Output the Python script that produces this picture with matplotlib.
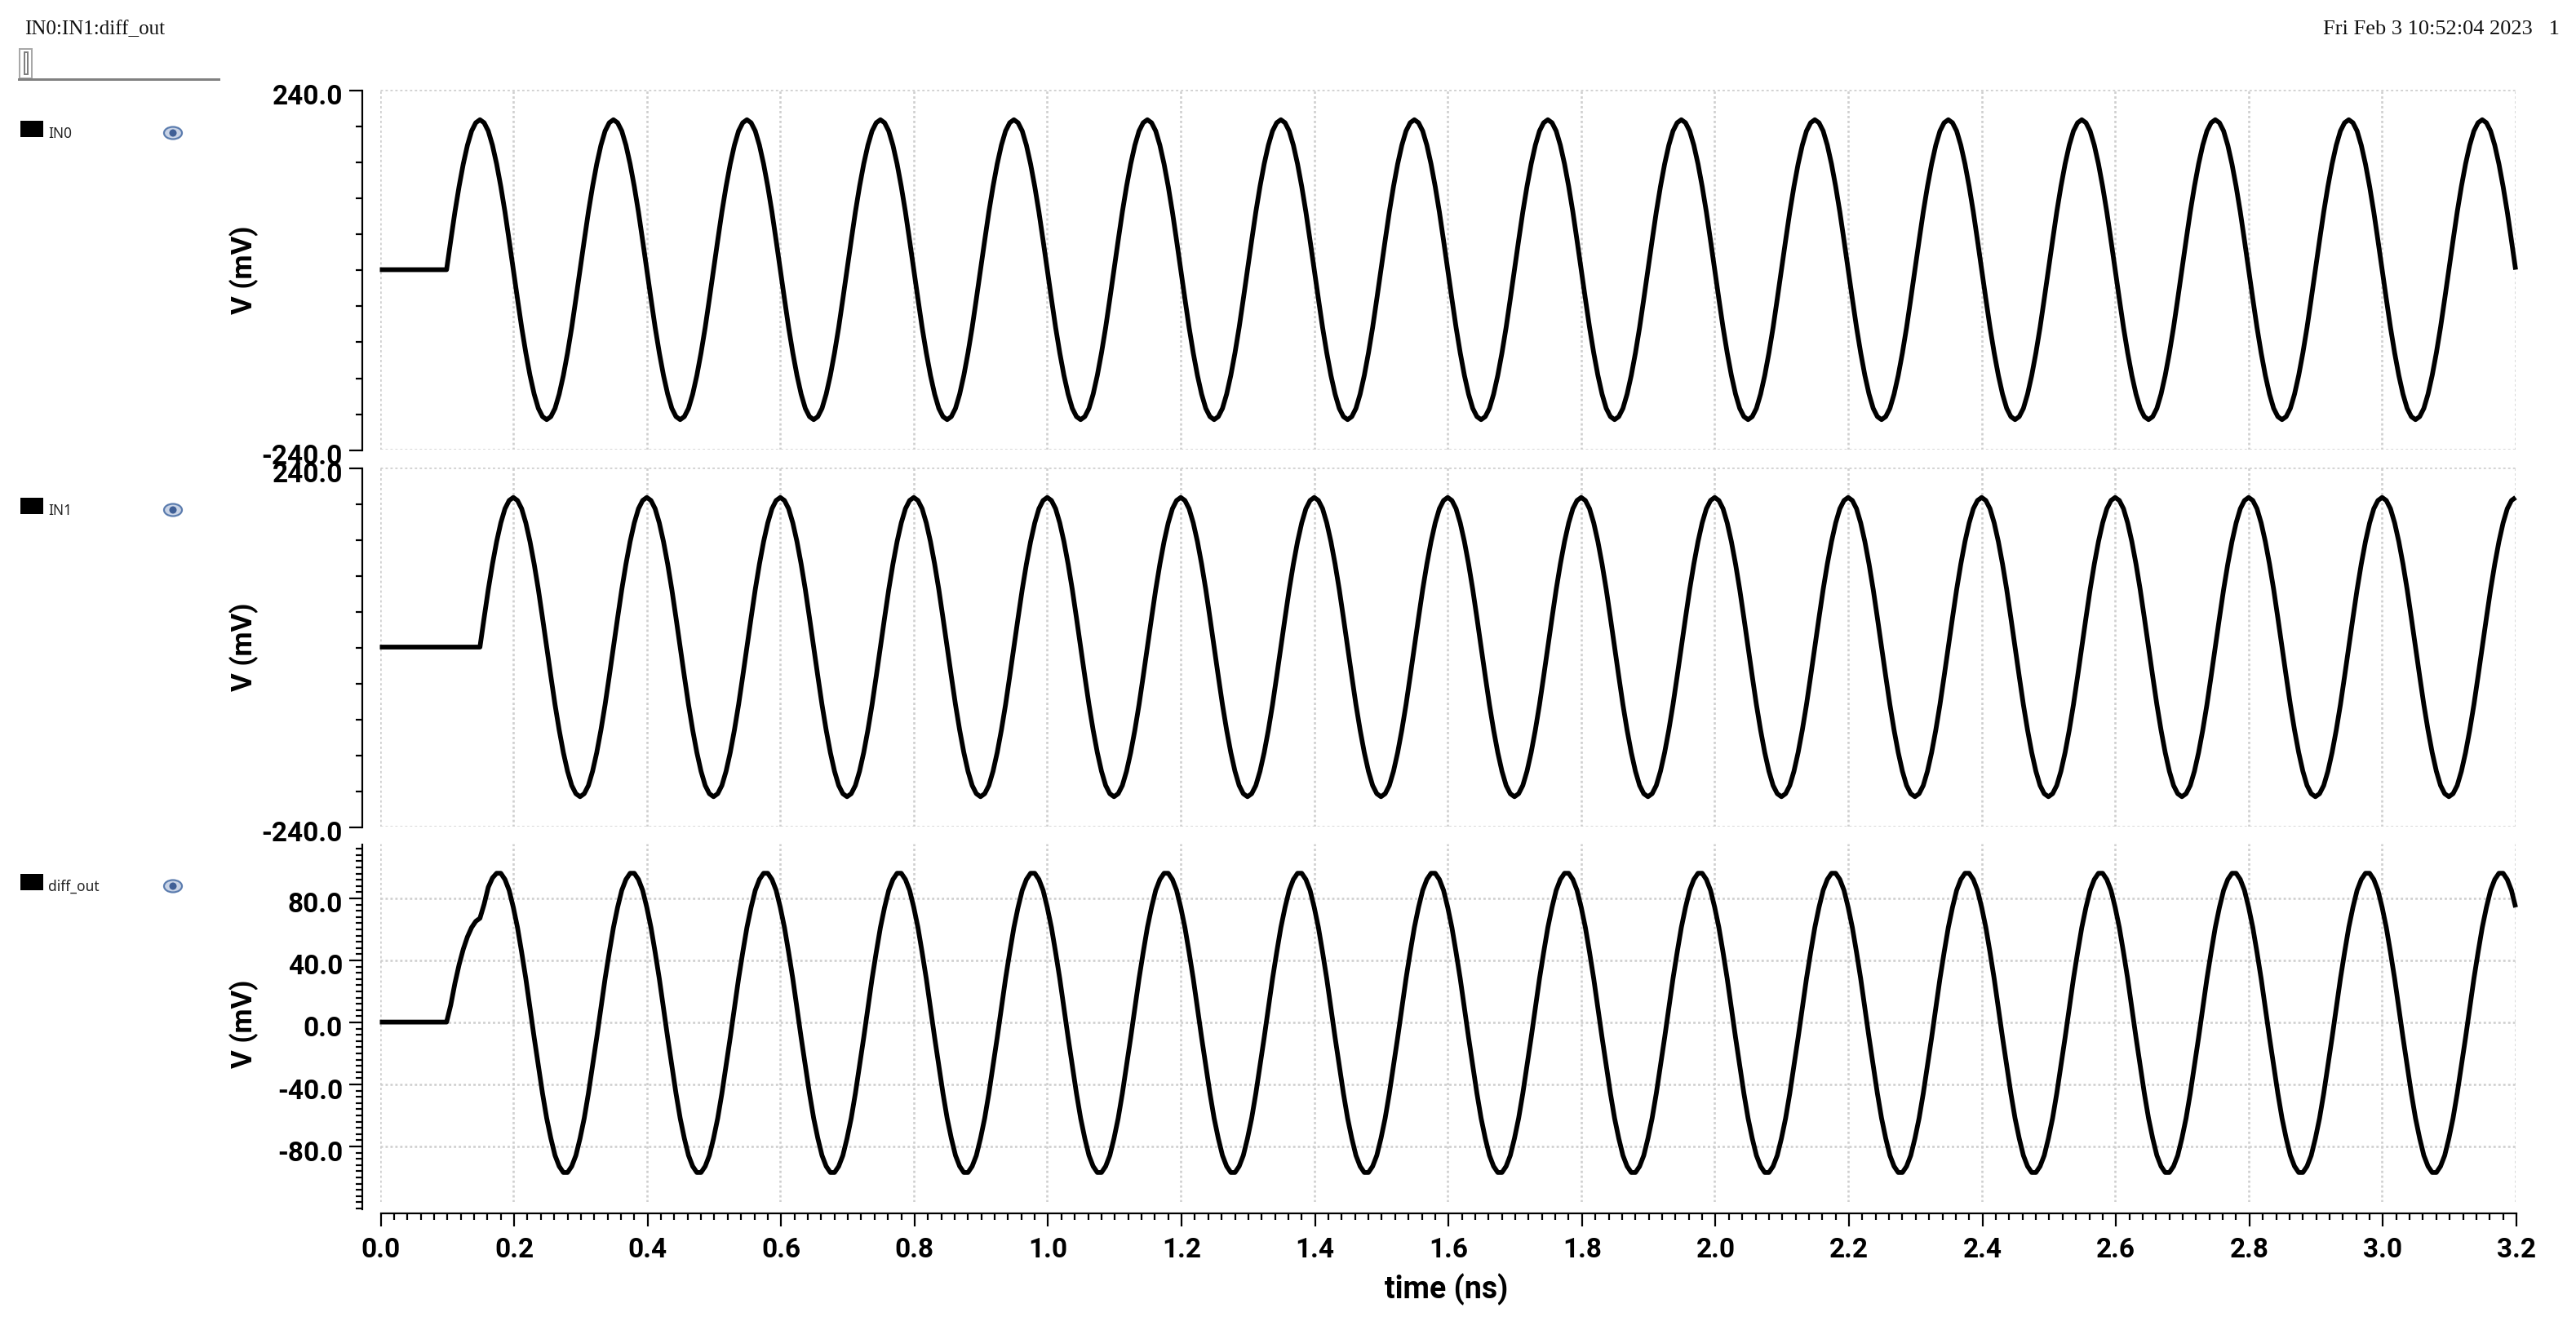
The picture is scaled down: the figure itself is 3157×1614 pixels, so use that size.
import numpy as np
import matplotlib
matplotlib.use("Agg")
import matplotlib.pyplot as plt
from matplotlib.patches import Rectangle, Ellipse
from matplotlib.ticker import MultipleLocator, FixedLocator, FuncFormatter
from matplotlib.transforms import ScaledTranslation

# Values, one sample every 0.00625 ns, in mV
title_left = "IN0:IN1:diff_out"
title_right = "Fri Feb 3 10:52:04 2023   1"
signal_names = ["IN0", "IN1", "diff_out"]
time_start, time_end, time_step = 0.0, 3.2, 0.00625
y_label = "V (mV)"
x_label = "time (ns)"

in0 = [
0,0,0,0,0,0,0,0,0,0,0,0,0,0,0,0,
0,39,77,111,141,166,185,196,200,196,185,166,141,111,77,39,0,-39,-77,-111,-141,-166,-185,-196,-200,-196,-185,-166,-141,-111,-77,-39,
0,39,77,111,141,166,185,196,200,196,185,166,141,111,77,39,0,-39,-77,-111,-141,-166,-185,-196,-200,-196,-185,-166,-141,-111,-77,-39,
0,39,77,111,141,166,185,196,200,196,185,166,141,111,77,39,0,-39,-77,-111,-141,-166,-185,-196,-200,-196,-185,-166,-141,-111,-77,-39,
0,39,77,111,141,166,185,196,200,196,185,166,141,111,77,39,0,-39,-77,-111,-141,-166,-185,-196,-200,-196,-185,-166,-141,-111,-77,-39,
0,39,77,111,141,166,185,196,200,196,185,166,141,111,77,39,0,-39,-77,-111,-141,-166,-185,-196,-200,-196,-185,-166,-141,-111,-77,-39,
0,39,77,111,141,166,185,196,200,196,185,166,141,111,77,39,0,-39,-77,-111,-141,-166,-185,-196,-200,-196,-185,-166,-141,-111,-77,-39,
0,39,77,111,141,166,185,196,200,196,185,166,141,111,77,39,0,-39,-77,-111,-141,-166,-185,-196,-200,-196,-185,-166,-141,-111,-77,-39,
0,39,77,111,141,166,185,196,200,196,185,166,141,111,77,39,0,-39,-77,-111,-141,-166,-185,-196,-200,-196,-185,-166,-141,-111,-77,-39,
0,39,77,111,141,166,185,196,200,196,185,166,141,111,77,39,0,-39,-77,-111,-141,-166,-185,-196,-200,-196,-185,-166,-141,-111,-77,-39,
0,39,77,111,141,166,185,196,200,196,185,166,141,111,77,39,0,-39,-77,-111,-141,-166,-185,-196,-200,-196,-185,-166,-141,-111,-77,-39,
0,39,77,111,141,166,185,196,200,196,185,166,141,111,77,39,0,-39,-77,-111,-141,-166,-185,-196,-200,-196,-185,-166,-141,-111,-77,-39,
0,39,77,111,141,166,185,196,200,196,185,166,141,111,77,39,0,-39,-77,-111,-141,-166,-185,-196,-200,-196,-185,-166,-141,-111,-77,-39,
0,39,77,111,141,166,185,196,200,196,185,166,141,111,77,39,0,-39,-77,-111,-141,-166,-185,-196,-200,-196,-185,-166,-141,-111,-77,-39,
0,39,77,111,141,166,185,196,200,196,185,166,141,111,77,39,0,-39,-77,-111,-141,-166,-185,-196,-200,-196,-185,-166,-141,-111,-77,-39,
0,39,77,111,141,166,185,196,200,196,185,166,141,111,77,39,0,-39,-77,-111,-141,-166,-185,-196,-200,-196,-185,-166,-141,-111,-77,-39,
0,39,77,111,141,166,185,196,200,196,185,166,141,111,77,39,0,
]

in1 = [
0,0,0,0,0,0,0,0,0,0,0,0,0,0,0,0,0,0,0,0,0,0,0,0,
0,39,77,111,141,166,185,196,200,196,185,166,141,111,77,39,0,-39,-77,-111,-141,-166,-185,-196,-200,-196,-185,-166,-141,-111,-77,-39,
0,39,77,111,141,166,185,196,200,196,185,166,141,111,77,39,0,-39,-77,-111,-141,-166,-185,-196,-200,-196,-185,-166,-141,-111,-77,-39,
0,39,77,111,141,166,185,196,200,196,185,166,141,111,77,39,0,-39,-77,-111,-141,-166,-185,-196,-200,-196,-185,-166,-141,-111,-77,-39,
0,39,77,111,141,166,185,196,200,196,185,166,141,111,77,39,0,-39,-77,-111,-141,-166,-185,-196,-200,-196,-185,-166,-141,-111,-77,-39,
0,39,77,111,141,166,185,196,200,196,185,166,141,111,77,39,0,-39,-77,-111,-141,-166,-185,-196,-200,-196,-185,-166,-141,-111,-77,-39,
0,39,77,111,141,166,185,196,200,196,185,166,141,111,77,39,0,-39,-77,-111,-141,-166,-185,-196,-200,-196,-185,-166,-141,-111,-77,-39,
0,39,77,111,141,166,185,196,200,196,185,166,141,111,77,39,0,-39,-77,-111,-141,-166,-185,-196,-200,-196,-185,-166,-141,-111,-77,-39,
0,39,77,111,141,166,185,196,200,196,185,166,141,111,77,39,0,-39,-77,-111,-141,-166,-185,-196,-200,-196,-185,-166,-141,-111,-77,-39,
0,39,77,111,141,166,185,196,200,196,185,166,141,111,77,39,0,-39,-77,-111,-141,-166,-185,-196,-200,-196,-185,-166,-141,-111,-77,-39,
0,39,77,111,141,166,185,196,200,196,185,166,141,111,77,39,0,-39,-77,-111,-141,-166,-185,-196,-200,-196,-185,-166,-141,-111,-77,-39,
0,39,77,111,141,166,185,196,200,196,185,166,141,111,77,39,0,-39,-77,-111,-141,-166,-185,-196,-200,-196,-185,-166,-141,-111,-77,-39,
0,39,77,111,141,166,185,196,200,196,185,166,141,111,77,39,0,-39,-77,-111,-141,-166,-185,-196,-200,-196,-185,-166,-141,-111,-77,-39,
0,39,77,111,141,166,185,196,200,196,185,166,141,111,77,39,0,-39,-77,-111,-141,-166,-185,-196,-200,-196,-185,-166,-141,-111,-77,-39,
0,39,77,111,141,166,185,196,200,196,185,166,141,111,77,39,0,-39,-77,-111,-141,-166,-185,-196,-200,-196,-185,-166,-141,-111,-77,-39,
0,39,77,111,141,166,185,196,200,196,185,166,141,111,77,39,0,-39,-77,-111,-141,-166,-185,-196,-200,-196,-185,-166,-141,-111,-77,-39,
0,39,77,111,141,166,185,196,200,
]

diff_out = [
0,0,0,0,0,0,0,0,0,0,0,0,0,0,0,0,0,
11,25,37,47,55,61,65,67,76,87,93,96,
96,92,85,74,61,45,28,9,-10,-28,-46,-62,-75,-86,-93,-97,-97,-93,-86,-75,-62,-46,-28,-10,9,28,45,61,74,85,92,96,
96,92,85,74,61,45,28,9,-10,-28,-46,-62,-75,-86,-93,-97,-97,-93,-86,-75,-62,-46,-28,-10,9,28,45,61,74,85,92,96,
96,92,85,74,61,45,28,9,-10,-28,-46,-62,-75,-86,-93,-97,-97,-93,-86,-75,-62,-46,-28,-10,9,28,45,61,74,85,92,96,
96,92,85,74,61,45,28,9,-10,-28,-46,-62,-75,-86,-93,-97,-97,-93,-86,-75,-62,-46,-28,-10,9,28,45,61,74,85,92,96,
96,92,85,74,61,45,28,9,-10,-28,-46,-62,-75,-86,-93,-97,-97,-93,-86,-75,-62,-46,-28,-10,9,28,45,61,74,85,92,96,
96,92,85,74,61,45,28,9,-10,-28,-46,-62,-75,-86,-93,-97,-97,-93,-86,-75,-62,-46,-28,-10,9,28,45,61,74,85,92,96,
96,92,85,74,61,45,28,9,-10,-28,-46,-62,-75,-86,-93,-97,-97,-93,-86,-75,-62,-46,-28,-10,9,28,45,61,74,85,92,96,
96,92,85,74,61,45,28,9,-10,-28,-46,-62,-75,-86,-93,-97,-97,-93,-86,-75,-62,-46,-28,-10,9,28,45,61,74,85,92,96,
96,92,85,74,61,45,28,9,-10,-28,-46,-62,-75,-86,-93,-97,-97,-93,-86,-75,-62,-46,-28,-10,9,28,45,61,74,85,92,96,
96,92,85,74,61,45,28,9,-10,-28,-46,-62,-75,-86,-93,-97,-97,-93,-86,-75,-62,-46,-28,-10,9,28,45,61,74,85,92,96,
96,92,85,74,61,45,28,9,-10,-28,-46,-62,-75,-86,-93,-97,-97,-93,-86,-75,-62,-46,-28,-10,9,28,45,61,74,85,92,96,
96,92,85,74,61,45,28,9,-10,-28,-46,-62,-75,-86,-93,-97,-97,-93,-86,-75,-62,-46,-28,-10,9,28,45,61,74,85,92,96,
96,92,85,74,61,45,28,9,-10,-28,-46,-62,-75,-86,-93,-97,-97,-93,-86,-75,-62,-46,-28,-10,9,28,45,61,74,85,92,96,
96,92,85,74,61,45,28,9,-10,-28,-46,-62,-75,-86,-93,-97,-97,-93,-86,-75,-62,-46,-28,-10,9,28,45,61,74,85,92,96,
96,92,85,74,61,45,28,9,-10,-28,-46,-62,-75,-86,-93,-97,-97,-93,-86,-75,-62,-46,-28,-10,9,28,45,61,74,85,92,96,
96,92,85,74,
]

W, H = 3157, 1615
DPI = 100
px = 72.0 / DPI
GRID = "#cfcfcf"
FONT = "Roboto"
SMALL = "Noto Sans"
SERIF = "Liberation Serif"

time = np.arange(len(in0)) * time_step + time_start

fig = plt.figure(figsize=(W / DPI, H / DPI), dpi=DPI, facecolor="white")


def rect(l, t, r, b):
    return [l / W, 1 - b / H, (r - l) / W, (b - t) / H]


def grid_style(ax, xs, ys):
    ax.set_xlim(time_start, time_end)
    ax.set_xticks([])
    ax.set_yticks([])
    ax.patch.set_alpha(0)
    for s in ax.spines.values():
        s.set_visible(False)
    kw = dict(color=GRID, lw=2.6 * px, ls=(0, (1.1, 1.2)), zorder=1)
    for x in xs:
        ax.axvline(x, **kw)
    for y in ys:
        ax.axhline(y, **kw)


def y_axis(box, ylim, major, minor, labelled):
    a = fig.add_axes(rect(444, box[0], 445, box[1]))
    a.patch.set_alpha(0)
    a.set_ylim(*ylim)
    a.set_xticks([])
    for n in ("top", "right", "bottom"):
        a.spines[n].set_visible(False)
    a.spines["left"].set_linewidth(2.2 * px)
    a.yaxis.set_major_locator(FixedLocator(major))
    a.yaxis.set_minor_locator(FixedLocator(minor))
    a.yaxis.set_major_formatter(FuncFormatter(lambda v, p: f"{v:.1f}" if v in labelled else ""))
    a.tick_params(axis="y", which="major", length=16 * px, width=2.2 * px, pad=8 * px,
                  labelsize=24)
    a.tick_params(axis="y", which="minor", length=8 * px, width=2.2 * px)
    off = ScaledTranslation(0, -4 / DPI, fig.dpi_scale_trans)
    for lab in a.get_yticklabels():
        lab.set_fontfamily(FONT)
        lab.set_fontweight("bold")
        lab.set_transform(lab.get_transform() + off)
    return a


x_grid = np.arange(0, 3.21, 0.2)
LEFT, RIGHT = 465.5, 3083
CURVE = dict(color="black", lw=5.8 * px, solid_joinstyle="round", solid_capstyle="butt",
             zorder=3, clip_on=False)

# Panel 1
ax1 = fig.add_axes(rect(LEFT, 111, RIGHT, 552))
ax1.set_ylim(-240, 240)
grid_style(ax1, x_grid, [-240, 240])
ax1.plot(time, in0, **CURVE)

# Panel 2
ax2 = fig.add_axes(rect(LEFT, 574, RIGHT, 1014))
ax2.set_ylim(-240, 240)
grid_style(ax2, x_grid, [-240, 240])
ax2.plot(time, in1, **CURVE)

# Panel 3
ax3 = fig.add_axes(rect(LEFT, 1034.5, RIGHT, 1474))
ax3.set_ylim(-116.0, 115.3)
grid_style(ax3, x_grid, [-80, -40, 0, 40, 80])
ax3.plot(time, diff_out, **CURVE)

# Offset y axes
big = [-240, 240]
mid = [-192, -144, -96, -48, 0, 48, 96, 144, 192]
y_axis((111.7, 552.7), (-240, 240), big, mid, big)
y_axis((575, 1014.5), (-240, 240), big, mid, big)
lab3 = [-80, -40, 0, 40, 80]
y_axis((1036, 1483), (-120.5, 114.7), lab3, list(np.arange(-120, 113, 4)), lab3)

# Offset x axis
xa = fig.add_axes(rect(466.5, 1488, RIGHT + 1, 1489))
xa.patch.set_alpha(0)
xa.set_xlim(time_start, time_end)
xa.set_yticks([])
for n in ("left", "right", "bottom"):
    xa.spines[n].set_visible(False)
xa.spines["top"].set_linewidth(2.2 * px)
xa.xaxis.set_ticks_position("top")
xa.xaxis.set_label_position("bottom")
xa.xaxis.set_major_locator(MultipleLocator(0.2))
xa.xaxis.set_minor_locator(MultipleLocator(0.02))
xa.xaxis.set_major_formatter(FuncFormatter(lambda v, p: f"{v:.1f}"))
xa.tick_params(axis="x", which="major", direction="in", length=16 * px, width=2.2 * px,
               top=True, labeltop=False, bottom=False, labelbottom=True, labelsize=24, pad=27 * px)
xa.tick_params(axis="x", which="minor", direction="in", length=8 * px, width=2.2 * px, top=True, bottom=False)
for lab in xa.get_xticklabels():
    lab.set_fontfamily(FONT)
    lab.set_fontweight("bold")

# Page overlay in pixel coordinates
ov = fig.add_axes([0, 0, 1, 1])
ov.set_xlim(0, W)
ov.set_ylim(H, 0)
ov.axis("off")
ov.patch.set_alpha(0)

ov.text(30, 36, title_left, family=SERIF, fontsize=18, ha="left", va="center", color="#111111")
ov.text(3137, 36, title_right, family=SERIF, fontsize=19, ha="right", va="center", color="#111111")

ov.add_patch(Rectangle((24, 61), 15, 36, fc="white", ec="#a8a8a8", lw=2 * px))
ov.add_patch(Rectangle((29.5, 65), 4.5, 27, fc="white", ec="#808080", lw=2 * px))
ov.add_patch(Rectangle((22, 96.5), 248, 3.5, fc="#808080", ec="none"))

for name, dy in zip(signal_names, [0, 462, 923]):
    ov.add_patch(Rectangle((25, 149 + dy), 28, 20, fc="black", ec="none"))
    ov.text(59, 164 + dy, name, family=SMALL, fontsize=12.5, ha="left", va="center", color="#222222")
    ov.add_patch(Ellipse((212, 164 + dy), 22, 15, fc="#c8d3e6", ec="#5b7cae", lw=2.2 * px))
    ov.add_patch(Ellipse((212, 164 + dy), 9, 9, fc="#3f5f96", ec="none"))

for cy in (331, 793, 1255):
    ov.text(299, cy, y_label, family=FONT, fontweight="bold", fontsize=25,
            rotation=90, ha="center", va="center", color="black")
ov.text(1773, 1580, x_label, family=FONT, fontweight="bold", fontsize=27,
        ha="center", va="center", color="black")

fig.savefig("out.png", dpi=DPI)
